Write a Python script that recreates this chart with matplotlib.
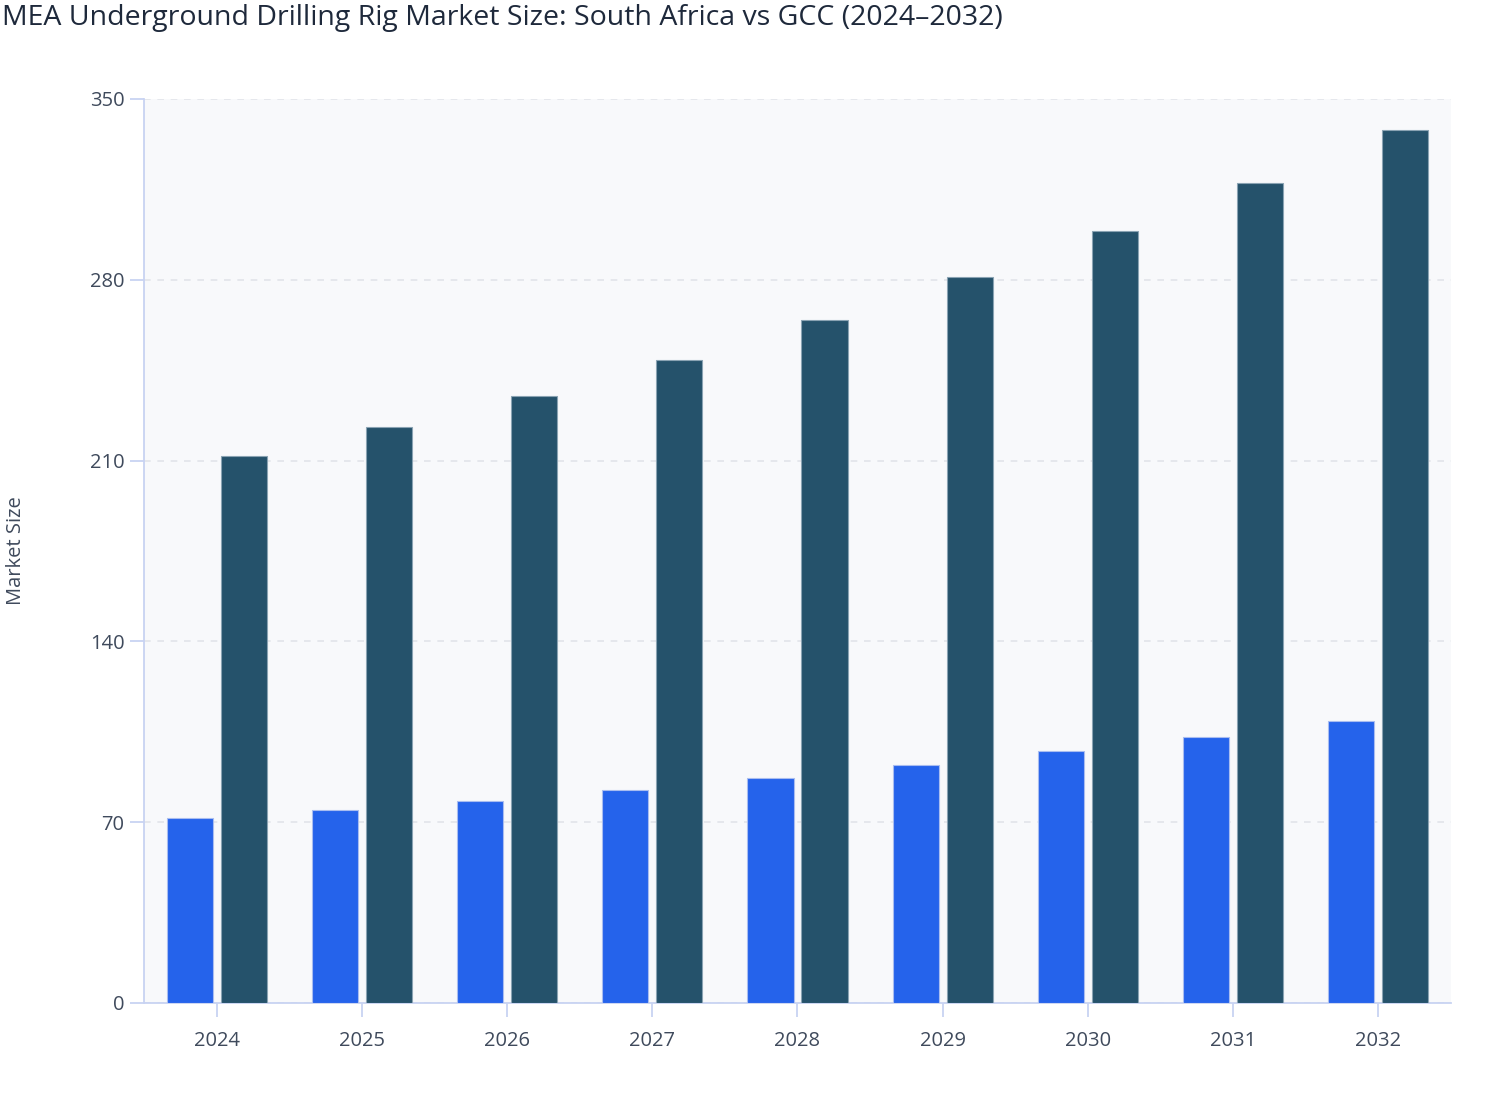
import matplotlib
matplotlib.use("Agg")
import matplotlib.pyplot as plt
import numpy as np

years = ["2024", "2025", "2026", "2027", "2028", "2029", "2030", "2031", "2032"]
south_africa = [71.6, 74.7, 78.2, 82.5, 87.1, 92.1, 97.6, 103.0, 109.2]
gcc = [211.8, 223.0, 235.0, 248.9, 264.4, 281.1, 298.9, 317.5, 338.0]
y_ticks = [0, 70, 140, 210, 280, 350]

plt.rcParams['font.family'] = ['Open Sans', 'DejaVu Sans']

fig = plt.figure(figsize=(15.08, 11.2), dpi=100)
ax = fig.add_axes([144/1508, 117/1120, (1451-144)/1508, (1003-99)/1120])
ax.set_facecolor('#f8f9fb')

x = np.arange(len(years))
w = 0.317
off = 0.186
ax.bar(x - off, south_africa, width=w, color='#2563eb', edgecolor='#a9bdf0', linewidth=0.8, zorder=3)
ax.bar(x + off, gcc, width=w, color='#25526b', edgecolor='#8aa3b3', linewidth=0.8, zorder=3)

ax.set_xlim(-0.5, len(years) - 0.5)
ax.set_ylim(0, 350)
ax.set_yticks(y_ticks)
ax.set_yticklabels([str(t) for t in y_ticks])
ax.set_xticks(x)
ax.set_xticklabels(years)

ax.grid(axis='y', color='#e2e4ea', linestyle=(0, (4, 4)), linewidth=1.2, zorder=0)
ax.grid(axis='x', visible=False)

for s in ['top', 'right']:
    ax.spines[s].set_visible(False)
for s in ['left', 'bottom']:
    ax.spines[s].set_color('#c8d3f2')
    ax.spines[s].set_linewidth(1.3)

ax.tick_params(axis='both', colors='#c8d3f2', length=10, width=1.3, labelcolor='#3f4a5c', labelsize=14.5)
ax.tick_params(axis='x', pad=10)
ax.tick_params(axis='y', pad=4)

ax.set_ylabel('Market Size', fontsize=14.5, color='#3f4a5c')
ax.yaxis.set_label_coords((26 - 144) / 1307, 0.5)

fig.text(0.0015, 1 - 18/1120, 'MEA Underground Drilling Rig Market Size: South Africa vs GCC (2024–2032)',
         fontsize=20.5, color='#1e293b', ha='left', va='center')

fig.savefig('out.png', dpi=100, facecolor='white')
